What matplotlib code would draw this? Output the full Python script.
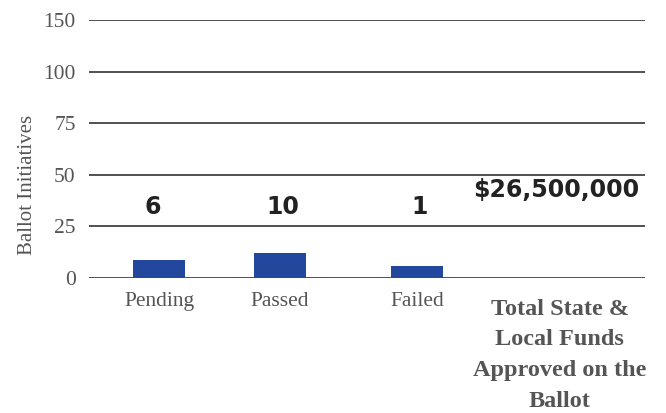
import numpy as np
import matplotlib.pyplot as plt

# data
categories = ["Pending", "Passed", "Failed",
              "Total State &\nLocal Funds\nApproved on the\nBallot"]
bar_values = [8.7, 12.3, 5.8]          # bar heights
count_labels = ["6", "10", "1", "$26,500,000"]
tick_values = [0, 25, 50, 75, 100, 150]

# layout
xpos = [0.126, 0.343, 0.59, 0.847]
label_x = [0.115, 0.349, 0.594, 0.841]
label_y = [34.4, 34.4, 34.4, 42.6]
tick_pos = np.arange(len(tick_values))


def fwd(y):
    return np.interp(y, tick_values, tick_pos)


def inv(p):
    return np.interp(p, tick_pos, tick_values)


fig = plt.figure(figsize=(6.66, 4.13), dpi=100)
ax = fig.add_axes([89 / 666, 135 / 413, 556 / 666, 258 / 413])
ax.set_yscale("function", functions=(fwd, inv))
ax.set_ylim(0, 150)
ax.set_xlim(0, 1)

ax.bar(xpos[:3], bar_values, width=0.0935, color="#22479c", zorder=3)

for x, y, s in zip(label_x, label_y, count_labels):
    ax.text(x, y, s, ha="center", va="center", fontsize=17,
            fontweight="bold", family="DejaVu Sans", color="#222222")

ax.set_yticks(tick_values)
ax.set_yticklabels([str(t) for t in tick_values])
ax.yaxis.grid(True, color="#333333", linewidth=1.2, zorder=0)
ax.tick_params(axis="y", length=0, pad=9.5, labelsize=15.5,
               labelcolor="#555555")
for lab in ax.get_yticklabels():
    lab.set_family("Liberation Serif")

ax.set_xticks(xpos)
ax.set_xticklabels(categories[:3] + [""])
ax.tick_params(axis="x", length=0, pad=10, labelsize=15.5,
               labelcolor="#555555")
for lab in ax.get_xticklabels():
    lab.set_family("Liberation Serif")

# last category label sits a little lower, in bold
ax.annotate(categories[3], xy=(xpos[3], 0), xycoords=("data", "axes fraction"),
            xytext=(0, -15), textcoords="offset points", ha="center", va="top",
            family="Liberation Serif", fontweight="bold", fontsize=17.5,
            linespacing=1.6, color="#555555", annotation_clip=False)

for sp in ax.spines.values():
    sp.set_visible(False)

ax.set_ylabel("Ballot Initiatives", family="Liberation Serif",
              fontsize=15, color="#555555")
ax.yaxis.set_label_coords(-0.093, 0.359)

fig.savefig("out.png", dpi=100)
